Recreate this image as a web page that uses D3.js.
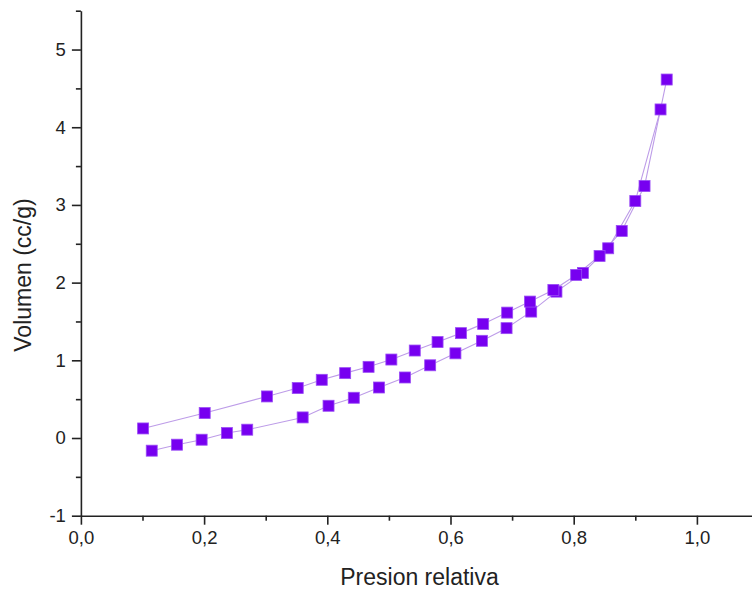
<!DOCTYPE html>
<html>
<head>
<meta charset="utf-8">
<script src="https://cdn.jsdelivr.net/npm/d3@7"></script>
<style>
  html, body { margin: 0; padding: 0; background: #fff; }
  svg { display: block; }
  text { font-family: "Liberation Sans", Arial, sans-serif; fill: #222; }
</style>
</head>
<body>
<svg id="chart" width="752" height="589"></svg>
<script>
// Adsorption branch (lower curve): relative pressure and volume
const adsP = [0.115, 0.156, 0.196, 0.237, 0.270, 0.360, 0.402, 0.443, 0.484, 0.526,
              0.567, 0.608, 0.651, 0.691, 0.731, 0.772, 0.815, 0.856, 0.900, 0.941];
const adsV = [-0.163, -0.086, -0.022, 0.064, 0.107, 0.265, 0.415, 0.518, 0.650, 0.779,
              0.936, 1.090, 1.251, 1.414, 1.627, 1.884, 2.125, 2.442, 3.050, 4.229];

// Desorption branch (upper curve), from the top of the loop downwards
const desP = [0.951, 0.915, 0.878, 0.842, 0.804, 0.767, 0.729, 0.692, 0.653, 0.617,
              0.579, 0.542, 0.504, 0.467, 0.429, 0.391, 0.352, 0.302, 0.201, 0.101];
const desV = [4.614, 3.243, 2.665, 2.343, 2.099, 1.906, 1.756, 1.614, 1.469, 1.350,
              1.235, 1.126, 1.010, 0.916, 0.835, 0.749, 0.643, 0.535, 0.321, 0.123];

// Axis ticks
const xMajor = [0, 0.2, 0.4, 0.6, 0.8, 1.0];
const xMinor = [0.1, 0.3, 0.5, 0.7, 0.9];
const yMajor = [-1, 0, 1, 2, 3, 4, 5];
const yMinor = [-0.5, 0.5, 1.5, 2.5, 3.5, 4.5, 5.5];

const xTitle = "Presion relativa";
const yTitle = "Volumen (cc/g)";

const svg = d3.select("#chart");

const x = d3.scaleLinear().domain([0, 1.1]).range([80.9, 758.5]);
const y = d3.scaleLinear().domain([-1, 5.5]).range([515.7, 10.7]);

// Decimal comma on x, plain hyphen for negatives on y
const comma = v => d3.format(".1f")(v).replace(".", ",");
const plain = v => String(v);

// Minor ticks
svg.append("g")
  .attr("transform", `translate(0,${y(-1)})`)
  .call(d3.axisBottom(x).tickValues(xMinor).tickSize(5).tickSizeOuter(0).tickFormat(""))
  .call(g => g.select(".domain").remove());
svg.append("g")
  .attr("transform", `translate(${x(0)},0)`)
  .call(d3.axisLeft(y).tickValues(yMinor).tickSize(5).tickSizeOuter(0).tickFormat(""))
  .call(g => g.select(".domain").remove());

// Major axes
const xAxis = svg.append("g")
  .attr("transform", `translate(0,${y(-1)})`)
  .call(d3.axisBottom(x).tickValues(xMajor).tickSize(9).tickSizeOuter(0).tickPadding(6).tickFormat(comma));
const yAxis = svg.append("g")
  .attr("transform", `translate(${x(0)},0)`)
  .call(d3.axisLeft(y).tickValues(yMajor).tickSize(9).tickSizeOuter(0).tickPadding(6).tickFormat(plain));

[xAxis, yAxis].forEach(g => {
  g.selectAll("text").style("font-size", "18.5px").style("font-family", "'Liberation Sans', Arial, sans-serif").attr("fill", "#222");
});
svg.selectAll(".domain, .tick line").attr("stroke", "#222").attr("stroke-width", 1.6);
xAxis.select(".domain").attr("d", `M${x(0)},0.5H752`);

// Branch lines
const line = d3.line().x(d => x(d[0])).y(d => y(d[1]));
const ads = adsP.map((p, i) => [p, adsV[i]]);
const des = desP.map((p, i) => [p, desV[i]]);

[ads, des].forEach(pts => {
  svg.append("path")
    .datum(pts)
    .attr("d", line)
    .attr("fill", "none")
    .attr("stroke", "#bd9ce8")
    .attr("stroke-width", 1.1);
});

// Square markers
const size = 11;
svg.append("g")
  .selectAll("rect")
  .data(ads.concat(des))
  .join("rect")
  .attr("x", d => x(d[0]) - size / 2)
  .attr("y", d => y(d[1]) - size / 2)
  .attr("width", size)
  .attr("height", size)
  .attr("fill", "#7700f0")
  .attr("stroke", "#9a4df5")
  .attr("stroke-width", 0.8);

// Axis titles
svg.append("text")
  .attr("x", 419.5)
  .attr("y", 585)
  .attr("text-anchor", "middle")
  .style("font-size", "23px")
  .text(xTitle);

svg.append("text")
  .attr("transform", "translate(30.5,275) rotate(-90)")
  .attr("text-anchor", "middle")
  .style("font-size", "23px")
  .text(yTitle);
</script>
</body>
</html>
